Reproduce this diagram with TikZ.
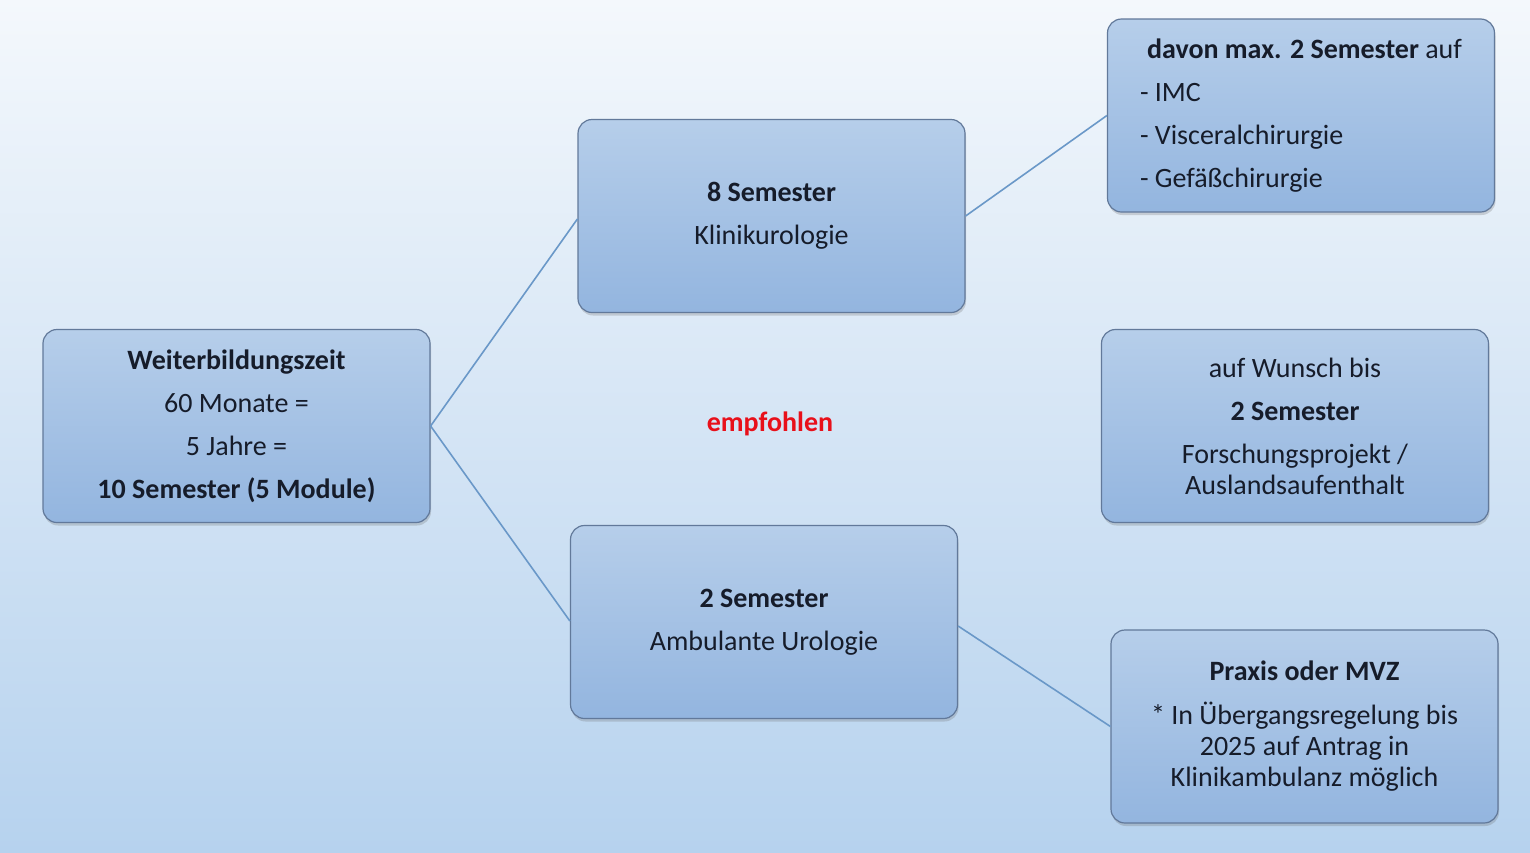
\documentclass[tikz,border=0pt]{standalone}
\usepackage{fontspec}
\setmainfont{Carlito}
\usetikzlibrary{shadows}
\definecolor{bgtop}{HTML}{F4F8FC}
\definecolor{bgbot}{HTML}{B6D2EE}
\definecolor{boxtop}{HTML}{B6CEEA}
\definecolor{boxbot}{HTML}{93B5DF}
\definecolor{boxline}{HTML}{62799A}
\definecolor{conn}{HTML}{6A98C8}
\definecolor{txt}{HTML}{161C2A}
\definecolor{redtxt}{HTML}{E8101A}
\tikzset{
  box/.style={draw=boxline, line width=1.2pt, rounded corners=14pt,
    top color=boxtop, bottom color=boxbot,
    minimum width=387pt, minimum height=193pt, inner sep=0pt,
    align=center, text=txt, font=\fontsize{28}{31}\selectfont,
    drop shadow={shadow xshift=1pt, shadow yshift=-3pt, opacity=0.25, fill=black!60}},
  conline/.style={draw=conn, line width=1.6pt}
}
\begin{document}
\begin{tikzpicture}[x=1pt,y=-1pt]
\shade[top color=bgtop, bottom color=bgbot] (0,0) rectangle (1530,852);
\useasboundingbox (0,0) rectangle (1530,852);

\node[box] (wb) at (236.5,426) {\textbf{Weiterbildungszeit}\\[12pt]60 Monate =\\[12pt]5 Jahre =\\[12pt]\textbf{10 Semester (5 Module)}};
\node[box] (kl) at (771.5,216) {\textbf{8 Semester}\\[12pt]Klinikurologie};
\node[box] (am) at (764,622) {\textbf{2 Semester}\\[12pt]Ambulante Urologie};
\node[box, align=left] (dv) at (1301,115.5) {\hspace{7pt}\textbf{davon max. 2 Semester} auf\\[12pt]- IMC\\[12pt]- Visceralchirurgie\\[12pt]- Gefäßchirurgie};
\node[box] (aw) at (1295,426) {auf Wunsch bis\\[12pt]\textbf{2 Semester}\\[12pt]Forschungsprojekt /\\Auslandsaufenthalt};
\node[box] (px) at (1304.5,726.5) {\textbf{Praxis oder MVZ}\\[13pt]* In Übergangsregelung bis\\2025 auf Antrag in\\Klinikambulanz möglich};

\node[text=redtxt, font=\fontsize{28}{31}\selectfont\bfseries] (em) at (770,424) {empfohlen};

\draw[conline] (wb.east) -- ([yshift=-3pt]kl.west);
\draw[conline] (wb.east) -- ([yshift=1pt]am.west);
\draw[conline] (kl.east) -- (dv.west);
\draw[conline] ([yshift=-4pt]am.east) -- (px.west);
\end{tikzpicture}
\end{document}
